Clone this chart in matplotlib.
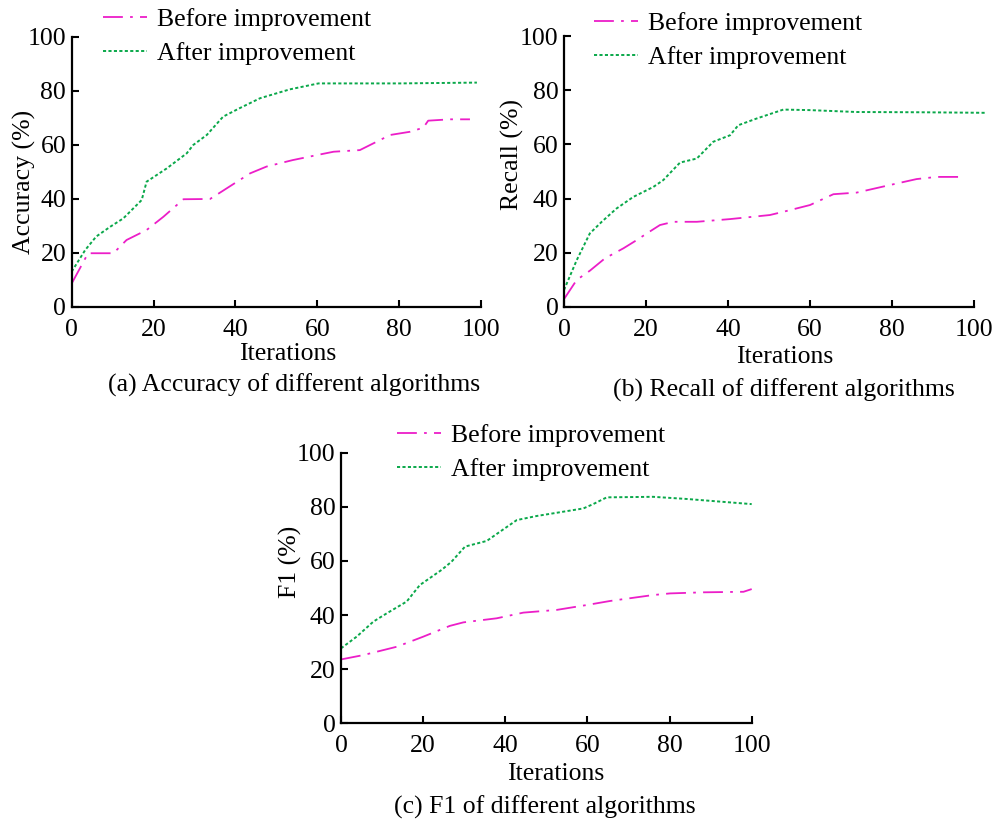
import matplotlib
matplotlib.use("Agg")
import matplotlib.pyplot as plt

plt.rcParams['font.family'] = ['Liberation Serif', 'DejaVu Serif']
plt.rcParams['mathtext.fontset'] = 'stix'

# ---------------- data ----------------
series_labels = ["Before improvement", "After improvement"]
x_ticks = [0, 20, 40, 60, 80, 100]
y_ticks = [0, 20, 40, 60, 80, 100]

acc_before_x = [0, 4, 10.2, 13.4, 18.3, 22.4, 27.3, 33.8, 36.6, 43.6, 47.6, 54, 60.7, 64, 70.4, 74.5, 77.8, 82.7, 85.9, 87.1, 92.4, 97.3]
acc_before_y = [8.6, 19.8, 19.8, 24.7, 28.4, 33.3, 39.8, 39.9, 42.6, 49.4, 51.9, 54.3, 56.4, 57.4, 58, 61.1, 63.6, 64.8, 66.3, 68.9, 69.4, 69.4]
acc_after_x = [0, 3.3, 6, 9.4, 12.6, 17.1, 18.3, 23.2, 28.1, 29.7, 33, 37, 41, 46, 53.3, 60.3, 80.2, 99]
acc_after_y = [13, 21, 26, 29.6, 32.7, 39.5, 46.3, 51.2, 56.8, 59.9, 63.6, 70.4, 73.5, 77.2, 80.5, 82.7, 82.7, 83]

rec_before_x = [0, 3.1, 6.3, 10, 14.5, 17.7, 20.2, 23.4, 26.7, 32.4, 40.5, 50.2, 53.5, 60, 65.7, 71.4, 79.5, 86, 90.9, 96.6]
rec_before_y = [2.8, 9.9, 13.3, 17.9, 21.6, 24.6, 27.1, 30.2, 31.4, 31.4, 32.4, 33.9, 35.1, 37.6, 41.6, 42.2, 45, 47.2, 48, 48]
rec_after_x = [0, 3.1, 6.3, 9.2, 12.8, 16.9, 21.8, 24.2, 28.3, 32.4, 36.4, 40.5, 42.5, 47, 53.5, 60, 71.4, 87.6, 103]
rec_after_y = [6.2, 17.2, 27.1, 31.4, 36.3, 40.6, 44.3, 46.8, 53.3, 54.8, 61, 63.4, 67.1, 69.6, 72.9, 72.7, 72, 71.9, 71.7]

f1_before_x = [0, 5.4, 13.6, 20, 26.5, 29.8, 37.9, 44.4, 52.5, 59.8, 65.5, 76, 80.1, 88.2, 98, 100]
f1_before_y = [23.6, 25.2, 28.3, 32, 36, 37.3, 38.8, 40.9, 41.9, 43.7, 45.2, 47.4, 48, 48.4, 48.6, 49.6]
f1_after_x = [0, 3.8, 7.9, 11.1, 16, 19.2, 24.5, 26.9, 30.2, 35.5, 38.7, 42.8, 47.6, 51.7, 59, 61.4, 64.7, 76, 84.2, 100]
f1_after_y = [27.7, 32, 37.6, 40.6, 45, 51.1, 56.7, 59.7, 65.3, 67.4, 70.8, 75.1, 76.6, 77.6, 79.4, 81, 83.5, 83.7, 82.9, 81]

panels = [
    dict(before=(acc_before_x, acc_before_y), after=(acc_after_x, acc_after_y),
         ylabel="Accuracy (%)", caption="(a) Accuracy of different algorithms"),
    dict(before=(rec_before_x, rec_before_y), after=(rec_after_x, rec_after_y),
         ylabel="Recall (%)", caption="(b) Recall of different algorithms"),
    dict(before=(f1_before_x, f1_before_y), after=(f1_after_x, f1_after_y),
         ylabel="F1 (%)", caption="(c) F1 of different algorithms"),
]

# ---------------- layout (pixels) ----------------
W, H = 997, 825
fig = plt.figure(figsize=(W / 100, H / 100), dpi=100)

def px_rect(x0, x1, ytop, ybot):
    return [x0 / W, (H - ybot) / H, (x1 - x0) / W, (ybot - ytop) / H]

rects = [px_rect(71.7, 481, 36.7, 306.7),
         px_rect(564, 974, 36.3, 306.7),
         px_rect(341, 751.7, 452.7, 723.3)]
ylabel_pos = [(24, 182), (512, 155), (290, 562)]
xlabel_pos = [(288, 354), (785, 357), (556, 774)]
caption_pos = [(294, 385), (784, 390), (545, 807)]
legend_anchor = [(103, 8), (594, 12), (397, 424)]

magenta = "#ec1ec8"
green = "#0aa84a"
fs = 18.5

for i, p in enumerate(panels):
    ax = fig.add_axes(rects[i])
    ax.plot(*p["before"], color=magenta, lw=1.3, dashes=(11, 4, 1.5, 4),
            label=series_labels[0], clip_on=False)
    ax.plot(*p["after"], color=green, lw=1.4, dashes=(1.6, 1.2),
            label=series_labels[1], clip_on=False)
    ax.set_xlim(0, 100)
    ax.set_ylim(0, 100)
    ax.set_xticks(x_ticks)
    ax.set_yticks(y_ticks)
    for s in ["top", "right"]:
        ax.spines[s].set_visible(False)
    for s in ["left", "bottom"]:
        ax.spines[s].set_linewidth(1.6)
    ax.tick_params(direction="in", length=5, width=1.5, labelsize=fs)
    ax.tick_params(axis="x", pad=8.5)
    ax.tick_params(axis="y", pad=4)
    ax.patch.set_alpha(0)

    lx, ly = legend_anchor[i]
    x0p, y0p = rects[i][0] * W, H - (rects[i][1] + rects[i][3]) * H
    wp, hp = rects[i][2] * W, rects[i][3] * H
    ax.legend(loc="upper left",
              bbox_to_anchor=((lx - x0p) / wp, 1 + (y0p - ly) / hp),
              frameon=False, fontsize=fs, handlelength=1.7, handletextpad=0.4,
              borderpad=0, borderaxespad=0, labelspacing=0.42)

    fig.text(ylabel_pos[i][0] / W, 1 - ylabel_pos[i][1] / H, p["ylabel"],
             rotation=90, ha="center", va="center", fontsize=fs)
    fig.text(xlabel_pos[i][0] / W, 1 - xlabel_pos[i][1] / H, "Iterations",
             ha="center", va="center", fontsize=fs)
    fig.text(caption_pos[i][0] / W, 1 - caption_pos[i][1] / H, p["caption"],
             ha="center", va="center", fontsize=fs)

fig.savefig("out.png", dpi=100)
